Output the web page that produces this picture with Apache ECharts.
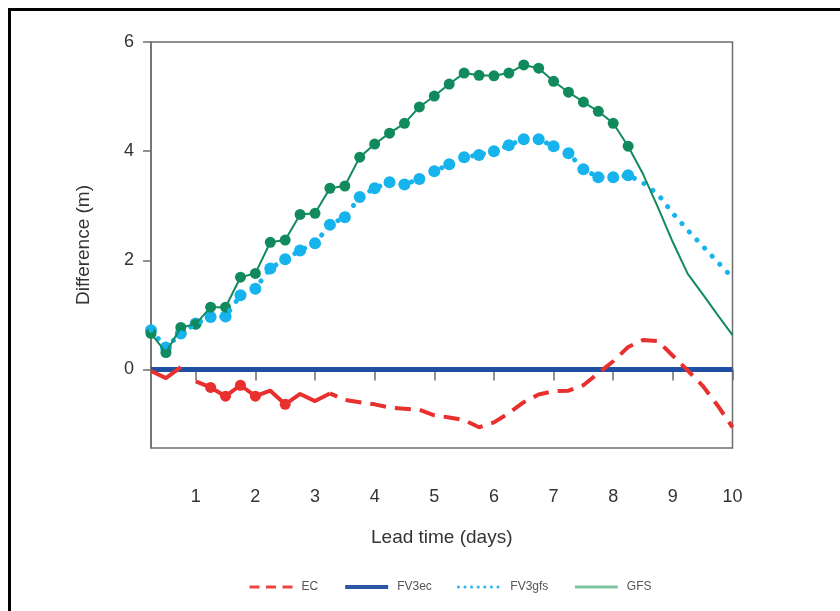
<!DOCTYPE html>
<html>
<head>
<meta charset="utf-8">
<script src="https://cdn.jsdelivr.net/npm/echarts@6/dist/echarts.min.js"></script>
<style>
html,body{margin:0;padding:0;background:#fff;}
#chart{width:840px;height:611px;}
</style>
</head>
<body>
<div id="chart"></div>
<script>
// ---- data (lead time in days, 6-hourly) ----
const days = [0.25,0.5,0.75,1.0,1.25,1.5,1.75,2.0,2.25,2.5,
              2.75,3.0,3.25,3.5,3.75,4.0,4.25,4.5,4.75,5.0,
              5.25,5.5,5.75,6.0,6.25,6.5,6.75,7.0,7.25,7.5,
              7.75,8.0,8.25,8.5,8.75,9.0,9.25,9.5,9.75,10.0];
const ecValues = [-0.03,-0.16,0.04,-0.22,-0.33,-0.49,-0.29,-0.49,-0.39,-0.64,
                  -0.45,-0.58,-0.44,-0.56,-0.60,-0.64,-0.70,-0.72,-0.74,-0.84,
                  -0.88,-0.93,-1.06,-0.97,-0.80,-0.60,-0.46,-0.40,-0.39,-0.29,
                  -0.07,0.15,0.41,0.54,0.52,0.25,-0.02,-0.30,-0.66,-1.06];
const fv3ecValues = [0,0,0,0,0,0,0,0,0,0,
                     0,0,0,0,0,0,0,0,0,0,
                     0,0,0,0,0,0,0,0,0,0,
                     0,0,0,0,0,0,0,0,0,0];
const fv3gfsValues = [0.72,0.40,0.66,0.84,0.96,0.97,1.36,1.48,1.85,2.02,
                      2.18,2.31,2.65,2.79,3.16,3.32,3.43,3.39,3.49,3.63,
                      3.76,3.89,3.93,4.00,4.11,4.22,4.22,4.09,3.96,3.67,
                      3.52,3.52,3.56,3.42,3.21,2.86,2.55,2.26,1.97,1.68];
const gfsValues = [0.66,0.31,0.77,0.83,1.14,1.14,1.69,1.76,2.33,2.37,
                   2.84,2.86,3.32,3.36,3.89,4.13,4.33,4.51,4.81,5.01,
                   5.23,5.43,5.39,5.38,5.43,5.58,5.52,5.28,5.08,4.90,
                   4.73,4.51,4.09,3.58,2.97,2.33,1.75,1.38,1.00,0.63];
const ecDotDays = [1.25,1.5,1.75,2.0,2.5];
const markerLastDay = 8.25;
const xTicks = [1,2,3,4,5,6,7,8,9,10];
const yTicks = [0,2,4,6];
const seriesNames = ['EC','FV3ec','FV3gfs','GFS'];

// ---- helpers ----
const pairs = vals => days.map((d,i)=>[d, vals[i]]);
const between = (vals, a, b) => days.map((d,i)=>[d, vals[i]]).filter(p=>p[0]>=a && p[0]<=b);

const RED='#e8302e', BLUE='#1f4fa3', CYAN='#17b3ec', GREEN='#118a5d';
const FONT='"Liberation Sans", Arial, Helvetica, sans-serif';

const legendLine = {
  EC:{color:'#ee4540',width:3,type:[10,6.5],dashOffset:0},
  FV3ec:{color:'#2a56a6',width:4,type:'solid'},
  FV3gfs:{color:'#2bb8ee',width:3,type:[0.1,6.5],cap:'round',dashOffset:0},
  GFS:{color:'#7cc5a0',width:3,type:'solid'}
};

const chart = echarts.init(document.getElementById('chart'), null, {renderer:'canvas'});
const option = {
  animation:false,
  backgroundColor:'#fff',
  graphic:[{
    type:'rect', silent:true, z:100,
    shape:{x:9.5,y:9.5,width:900,height:700},
    style:{fill:'none',stroke:'#000',lineWidth:3}
  }],
  grid:{left:151,right:107.5,top:42,bottom:163,show:true,borderColor:'#6e6e6e',borderWidth:1.5,backgroundColor:'transparent'},
  legend:{
    data:seriesNames.map(n=>({name:n,lineStyle:legendLine[n]})),
    left:243, top:576, itemWidth:43, itemHeight:14, itemGap:25,
    itemStyle:{color:'transparent',borderColor:'transparent',borderWidth:0,opacity:0},
    textStyle:{fontFamily:FONT,fontSize:12,color:'#555',padding:[0,0,0,4]}
  },
  xAxis:{
    type:'value', min:0.25, max:10,
    name:'Lead time (days)', nameLocation:'middle', nameGap:80,
    nameTextStyle:{fontFamily:FONT,fontSize:19,color:'#333'},
    axisLine:{lineStyle:{color:'#6e6e6e',width:1.5}},
    axisTick:{show:true,length:11,customValues:xTicks,lineStyle:{color:'#6e6e6e',width:1.5}},
    axisLabel:{customValues:xTicks,margin:40,fontFamily:FONT,fontSize:18,color:'#333'},
    splitLine:{show:false}
  },
  yAxis:{
    type:'value', min:-1.44, max:6,
    name:'Difference (m)', nameLocation:'middle', nameGap:58, nameRotate:90,
    nameTextStyle:{fontFamily:FONT,fontSize:19,color:'#333'},
    axisLine:{show:true,lineStyle:{color:'#6e6e6e',width:1.5}},
    axisTick:{show:true,length:8,customValues:yTicks,lineStyle:{color:'#6e6e6e',width:1.5}},
    axisLabel:{customValues:yTicks,margin:17,fontFamily:FONT,fontSize:18,color:'#333'},
    splitLine:{show:false}
  },
  series:[
    {name:'FV3ec',type:'line',symbol:'none',data:pairs(fv3ecValues),
     lineStyle:{color:BLUE,width:5},itemStyle:{color:BLUE}},
    {name:'EC_a',type:'line',symbol:'none',data:between(ecValues,0.25,0.75),
     lineStyle:{color:RED,width:4,type:'solid'},itemStyle:{color:RED}},
    {name:'EC_b',type:'line',symbol:'none',data:between(ecValues,1.0,3.25),
     lineStyle:{color:RED,width:4,type:'solid',join:'round'},itemStyle:{color:RED}},
    {name:'EC',type:'line',symbol:'none',data:between(ecValues,3.25,10),
     lineStyle:{color:RED,width:4,type:[16,9],dashOffset:8},itemStyle:{color:RED}},
    {name:'EC_dots',type:'scatter',symbol:'circle',symbolSize:11,
     data:pairs(ecValues).filter(p=>ecDotDays.includes(p[0])),itemStyle:{color:RED,opacity:1}},
    {name:'FV3gfs',type:'line',symbol:'none',data:pairs(fv3gfsValues),
     lineStyle:{color:CYAN,width:5,type:[0.1,11],cap:'round'},itemStyle:{color:CYAN}},
    {name:'FV3gfs_dots',type:'scatter',symbol:'circle',symbolSize:12,
     data:between(fv3gfsValues,0.25,markerLastDay),itemStyle:{color:CYAN,opacity:1}},
    {name:'GFS',type:'line',symbol:'none',data:pairs(gfsValues),
     lineStyle:{color:GREEN,width:2},itemStyle:{color:GREEN}},
    {name:'GFS_dots',type:'scatter',symbol:'circle',symbolSize:11,
     data:between(gfsValues,0.25,markerLastDay),itemStyle:{color:GREEN,opacity:1}}
  ]
};
chart.setOption(option);
</script>
</body>
</html>
